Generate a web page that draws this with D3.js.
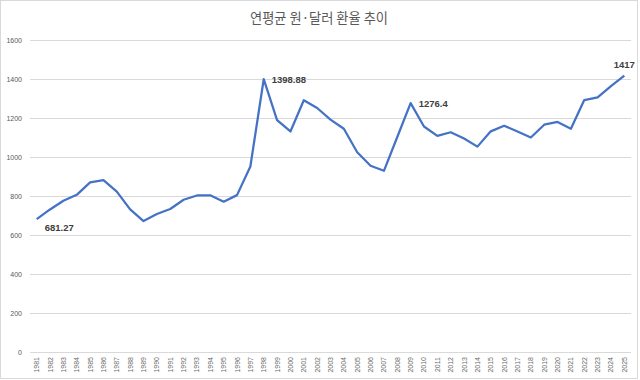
<!DOCTYPE html>
<html><head><meta charset="utf-8">
<script src="https://cdn.jsdelivr.net/npm/d3@7"></script>
<style>body{margin:0;background:#fff}svg{display:block}</style>
</head><body><svg id="c" width="640" height="380"></svg>
<script>
const years = [1981,1982,1983,1984,1985,1986,1987,1988,1989,1990,1991,1992,1993,1994,1995,1996,1997,1998,1999,2000,2001,2002,2003,2004,2005,2006,2007,2008,2009,2010,2011,2012,2013,2014,2015,2016,2017,2018,2019,2020,2021,2022,2023,2024,2025];
const rates = [681.27,731.08,775.75,805.98,870.02,881.45,822.57,731.47,671.46,707.76,733.35,780.65,802.67,803.45,771.04,804.45,951.29,1398.88,1189.48,1130.96,1290.99,1251.24,1191.89,1144.67,1024.31,955.51,929.2,1102.59,1276.4,1156.26,1108.11,1126.88,1095.04,1053.22,1131.49,1160.5,1130.84,1100.3,1165.65,1180.05,1144.42,1291.95,1305.41,1363.98,1417];
const yTicks = [0,200,400,600,800,1000,1200,1400,1600];
const labelled = [
  {year:1981, text:"681.27", dx:8, dy:12, anchor:"start"},
  {year:1998, text:"1398.88", dx:8, dy:4, anchor:"start"},
  {year:2009, text:"1276.4", dx:8, dy:4, anchor:"start"},
  {year:2025, text:"1417", dx:0, dy:-8, anchor:"middle"}
];
const title = "연평균 원·달러 환율 추이";

(function(){
const svg = d3.select("#c");
svg.append("rect").attr("x",0.5).attr("y",0.5).attr("width",637).attr("height",378)
  .attr("fill","#fff").attr("stroke","#d9d9d9");

const pl=30, pr=631, pt=40, pb=352;
const x = d3.scaleBand().domain(years).range([pl,pr]);
const y = d3.scaleLinear().domain([0,1600]).range([pb,pt]);

svg.append("text").attr("x",319).attr("y",23).attr("text-anchor","middle")
  .attr("font-family","'Noto Sans CJK KR', sans-serif").attr("font-size",14)
  .attr("textLength",138).attr("lengthAdjust","spacingAndGlyphs")
  .attr("fill","#595959").text(title);

svg.append("g").selectAll("line").data(yTicks).join("line")
  .attr("x1",pl).attr("x2",pr).attr("y1",d=>y(d)+0.5).attr("y2",d=>y(d)+0.5)
  .attr("stroke","#d9d9d9").attr("stroke-width",1);

svg.append("g").selectAll("text").data(yTicks).join("text")
  .attr("x",22).attr("y",d=>y(d)+3).attr("text-anchor","end")
  .attr("font-family","'Liberation Sans', Arial, sans-serif").attr("font-size",7)
  .attr("fill","#595959").text(d=>d);

svg.append("g").selectAll("text").data(years).join("text")
  .attr("transform",d=>`translate(${x(d)+x.bandwidth()/2+2.5},357) rotate(-90)`)
  .attr("text-anchor","end")
  .attr("font-family","'Liberation Sans', Arial, sans-serif").attr("font-size",7)
  .attr("fill","#6a6a6a").text(d=>d);

const cx = d=>x(d)+x.bandwidth()/2;
const line = d3.line().x((d,i)=>cx(years[i])).y(d=>y(d));
svg.append("path").datum(rates).attr("d",line).attr("fill","none")
  .attr("stroke","#4472c4").attr("stroke-width",2.25).attr("stroke-linejoin","round");

svg.append("g").selectAll("text").data(labelled).join("text")
  .attr("x",d=>cx(d.year)+d.dx).attr("y",d=>y(rates[years.indexOf(d.year)])+d.dy)
  .attr("text-anchor",d=>d.anchor)
  .attr("font-family","'Liberation Sans', Arial, sans-serif").attr("font-size",9.5).attr("font-weight","bold")
  .attr("fill","#404040").text(d=>d.text);
})();
</script></body></html>
